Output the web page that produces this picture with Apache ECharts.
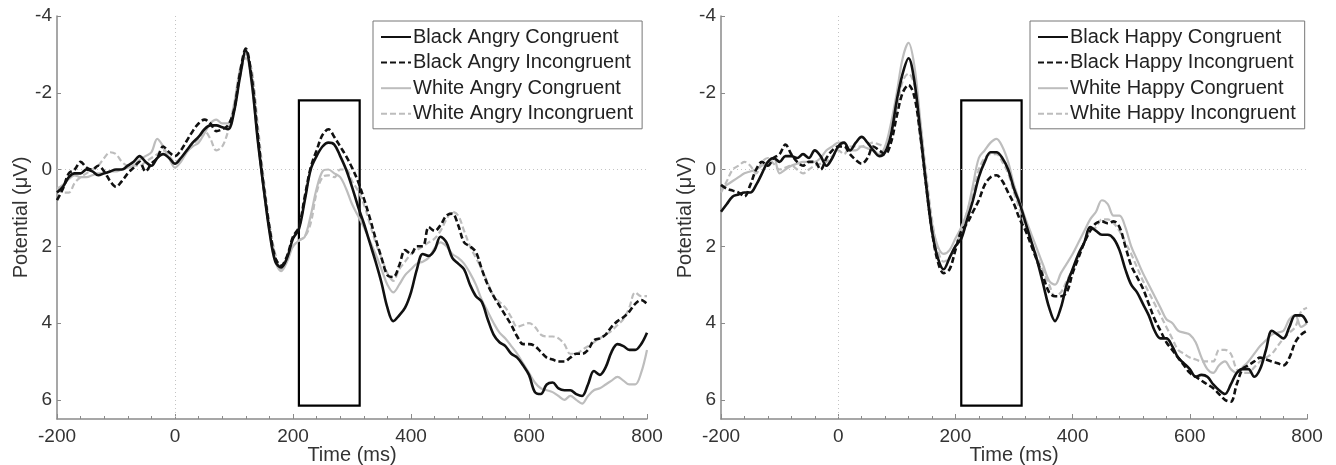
<!DOCTYPE html>
<html>
<head>
<meta charset="utf-8">
<script src="https://cdn.jsdelivr.net/npm/echarts@6/dist/echarts.min.js"></script>
<style>
  html, body { margin: 0; padding: 0; background: #fff; }
  #chart { width: 1336px; height: 465px; }
</style>
</head>
<body>
<div id="chart"></div>
<script>
// time points (ms)
const times = [
  -200, -190, -180, -170, -160, -150, -140, -130, -120, -110,
  -100, -90, -80, -70, -60, -50, -40, -30, -20, -10,
  0, 10, 20, 30, 40, 50, 60, 70, 80, 90,
  100, 110, 120, 130, 140, 150, 160, 170, 180, 190,
  200, 210, 220, 230, 240, 250, 260, 270, 280, 290,
  300, 310, 320, 330, 340, 350, 360, 370, 380, 390,
  400, 410, 420, 430, 440, 450, 460, 470, 480, 490,
  500, 510, 520, 530, 540, 550, 560, 570, 580, 590,
  600, 610, 620, 630, 640, 650, 660, 670, 680, 690,
  700, 710, 720, 730, 740, 750, 760, 770, 780, 790,
  800
]

// left panel: angry faces (uV)
const blackAngryCongruent = [
  0.6, 0.45, 0.2, 0.1, 0.1, 0.0, 0.05, 0.15, 0.1, 0.05,
  0.0, 0.0, -0.1, -0.2, -0.35, -0.2, -0.1, -0.3, -0.4, -0.3,
  -0.15, -0.3, -0.5, -0.7, -0.85, -1.05, -1.15, -1.15, -1.1, -1.05,
  -1.5, -2.4, -3.1, -2.3, -0.8, 0.45, 1.6, 2.4, 2.55, 2.3,
  1.8, 1.55, 0.8, 0.0, -0.35, -0.6, -0.7, -0.65, -0.35, 0.0,
  0.45, 0.95, 1.4, 1.9, 2.4, 2.95, 3.6, 3.95, 3.8, 3.6,
  3.2, 2.6, 2.2, 2.25, 2.1, 1.75, 1.9, 2.3, 2.45, 2.6,
  3.0, 3.3, 3.45, 3.9, 4.3, 4.5, 4.6, 4.8, 4.9, 5.1,
  5.35, 5.8, 5.85, 5.6, 5.55, 5.7, 5.75, 5.75, 5.85, 5.9,
  5.6, 5.25, 5.35, 5.15, 4.75, 4.55, 4.6, 4.7, 4.7, 4.55,
  4.25
]
const blackAngryIncongruent = [
  0.8, 0.5, 0.1, 0.0, -0.2, -0.05, 0.0, -0.1, 0.05, 0.3,
  0.45, 0.3, 0.1, -0.05, -0.2, 0.05, -0.15, -0.3, -0.6, -0.45,
  -0.35, -0.5, -0.75, -1.0, -1.2, -1.3, -1.2, -1.0, -1.05, -1.15,
  -1.55, -2.5, -3.15, -2.4, -0.95, 0.4, 1.5, 2.3, 2.5, 2.25,
  1.75, 1.5, 0.7, -0.05, -0.5, -0.9, -1.05, -0.85, -0.6, -0.35,
  -0.05, 0.3, 0.75, 1.25, 1.8, 2.3, 2.75, 2.8, 2.5, 2.1,
  2.2, 2.0, 2.0, 1.5, 1.6, 1.45, 1.2, 1.15, 1.45, 1.9,
  2.0, 2.15, 2.6, 3.0, 3.3, 3.55, 3.8, 4.05, 4.35, 4.55,
  4.55, 4.6, 4.75, 4.9, 4.95, 5.0, 5.0, 4.9, 4.8, 4.8,
  4.7, 4.45, 4.4, 4.3, 4.1, 3.95, 3.85, 3.7, 3.5, 3.4,
  3.5
]
const whiteAngryCongruent = [
  0.5, 0.4, 0.25, 0.15, 0.2, 0.2, 0.15, 0.1, 0.1, 0.05,
  0.05, 0.0, -0.05, -0.1, -0.25, -0.35, -0.45, -0.8, -0.6, -0.3,
  -0.05, -0.2, -0.45, -0.6, -0.7, -0.95, -1.2, -1.3, -1.2, -1.2,
  -1.7, -2.6, -3.0, -2.2, -0.8, 0.5, 1.6, 2.4, 2.65, 2.4,
  2.0, 1.85, 1.75, 1.2, 0.5, 0.05, 0.0, 0.1, 0.2, 0.5,
  0.9, 1.2, 1.5, 1.85, 2.2, 2.6, 3.0, 3.2, 3.0, 2.75,
  2.6, 2.45, 2.4, 2.3, 2.05, 1.9, 2.0, 2.2, 2.3, 2.45,
  2.7, 3.0, 3.4, 3.7, 4.0, 4.25, 4.4, 4.6, 4.8, 5.05,
  5.3, 5.55, 5.7, 5.75, 5.8, 5.9, 6.0, 5.9, 6.0, 6.1,
  5.9, 5.75, 5.7, 5.6, 5.5, 5.4, 5.5, 5.6, 5.6, 5.3,
  4.7
]
const whiteAngryIncongruent = [
  0.5, 0.6, 0.6, 0.35, 0.2, 0.1, 0.0, -0.1, -0.3, -0.45,
  -0.4, -0.2, -0.1, -0.1, -0.1, -0.2, -0.3, -0.4, -0.5, -0.35,
  -0.2, -0.3, -0.5, -0.65, -0.8, -1.0, -0.8, -0.5, -0.6, -1.0,
  -1.6, -2.4, -2.9, -2.6, -1.2, 0.2, 1.4, 2.2, 2.6, 2.3,
  2.0, 1.85, 1.75, 1.4, 0.6, 0.2, 0.15, 0.2, 0.0, 0.0,
  0.3, 0.55, 0.9, 1.4, 1.9, 2.3, 2.7, 2.9, 2.6, 2.4,
  2.2, 2.1, 2.0, 1.9, 1.8, 1.6, 1.3, 1.1, 1.2, 1.6,
  2.0, 2.3, 2.6, 2.95, 3.3, 3.45, 3.6, 3.85, 4.1, 4.05,
  4.0, 4.1, 4.3, 4.35, 4.35, 4.4, 4.55, 4.8, 4.8, 4.7,
  4.6, 4.5, 4.4, 4.3, 4.2, 4.05, 3.9, 3.6, 3.2, 3.3,
  3.3
]

// right panel: happy faces (uV)
const blackHappyCongruent = [
  1.1, 0.9, 0.7, 0.65, 0.6, 0.6, 0.4, 0.1, -0.2, -0.3,
  -0.2, -0.35, -0.35, -0.3, -0.4, -0.3, -0.5, -0.35, -0.1, -0.3,
  -0.6, -0.7, -0.5, -0.7, -0.85, -0.7, -0.5, -0.35, -0.45, -0.9,
  -1.8, -2.5, -2.9, -2.3, -1.0, 0.4, 1.6, 2.3, 2.6, 2.3,
  2.0, 1.8, 1.3, 0.8, 0.2, -0.2, -0.45, -0.45, -0.3, 0.0,
  0.5, 0.9, 1.4, 1.9, 2.4, 3.0, 3.6, 3.95, 3.6, 3.0,
  2.6, 2.2, 1.9, 1.5, 1.6, 1.7, 1.7, 1.8, 2.1, 2.6,
  3.0, 3.2, 3.5, 3.8, 4.2, 4.4, 4.4, 4.6, 4.9, 5.05,
  5.2, 5.4, 5.35, 5.4, 5.6, 5.75, 5.85, 5.6, 5.3, 5.2,
  5.2, 5.4, 5.2, 4.7, 4.2, 4.3, 4.4, 4.1, 3.8, 3.8,
  4.0
]
const blackHappyIncongruent = [
  0.4, 0.5, 0.55, 0.6, 0.7, 0.4, 0.0, -0.2, -0.1, -0.3,
  -0.4, -0.65, -0.4, -0.2, -0.1, -0.2, -0.2, 0.0, -0.3, -0.5,
  -0.6, -0.6, -0.4, -0.25, -0.15, -0.3, -0.6, -0.5, -0.4, -0.7,
  -1.4, -2.0, -2.2, -1.9, -0.9, 0.4, 1.6, 2.4, 2.7, 2.6,
  2.1, 1.6, 1.4, 1.1, 0.8, 0.4, 0.2, 0.15, 0.3, 0.6,
  0.9, 1.3, 1.6, 2.0, 2.4, 2.8, 3.2, 3.3, 3.3, 3.2,
  2.7, 2.3, 1.9, 1.6, 1.4, 1.35, 1.4, 1.35, 1.5, 2.0,
  2.5, 2.8, 3.1, 3.5, 3.9, 4.2, 4.5, 4.7, 4.9, 5.1,
  5.3, 5.4, 5.5, 5.6, 5.7, 5.85, 6.0, 6.05, 5.6, 5.2,
  5.1, 5.0, 4.9, 4.95, 5.0, 5.05, 5.1, 4.9, 4.5, 4.3,
  4.2
]
const whiteHappyCongruent = [
  0.5, 0.4, 0.3, 0.2, 0.1, 0.05, 0.0, -0.1, -0.2, -0.3,
  0.1, 0.0, -0.1, -0.15, -0.2, -0.2, -0.2, -0.3, -0.5, -0.6,
  -0.7, -0.7, -0.5, -0.5, -0.6, -0.55, -0.5, -0.4, -0.6, -1.2,
  -2.0, -2.9, -3.3, -2.7, -1.3, 0.2, 1.4, 2.0, 2.2, 2.1,
  1.8, 1.5, 1.1, 0.4, -0.3, -0.5, -0.7, -0.8, -0.6, -0.2,
  0.4, 0.85, 1.3, 1.7, 2.1, 2.5, 2.9, 3.0, 2.7, 2.45,
  2.2, 1.9, 1.6, 1.3, 1.1, 0.8, 0.9, 1.2, 1.2, 1.5,
  2.0, 2.35, 2.7, 3.0, 3.3, 3.6, 3.9, 4.0, 4.2, 4.25,
  4.3, 4.5, 4.9, 5.2, 5.3, 5.1, 5.0, 5.2, 5.3, 5.15,
  5.0, 4.8, 4.6, 4.45, 4.3, 4.25, 4.2, 3.9, 3.8, 4.1,
  4.0
]
const whiteHappyIncongruent = [
  0.6, 0.3, 0.0, -0.1, -0.2, -0.1, 0.1, -0.2, -0.3, -0.15,
  0.0, -0.05, -0.1, 0.0, 0.1, 0.0, -0.1, -0.15, -0.2, -0.35,
  -0.5, -0.4, -0.6, -0.6, -0.6, -0.65, -0.7, -0.65, -0.6, -0.9,
  -1.6, -2.3, -2.5, -2.2, -1.2, 0.1, 1.3, 2.1, 2.4, 2.3,
  2.0, 1.6, 1.1, 0.6, 0.0, -0.3, -0.4, -0.4, -0.2, 0.1,
  0.6, 1.05, 1.5, 1.9, 2.3, 2.65, 3.0, 3.3, 3.2, 2.9,
  2.6, 2.25, 1.9, 1.6, 1.5, 1.3, 1.3, 1.4, 1.6, 1.9,
  2.2, 2.55, 2.9, 3.2, 3.5, 3.8, 4.1, 4.4, 4.7, 4.8,
  4.9, 4.95, 5.0, 5.0, 5.0, 4.7, 4.7, 4.8, 5.2, 5.3,
  5.3, 5.15, 5.0, 4.9, 4.8, 4.6, 4.4, 4.25, 4.1, 3.7,
  3.6
]

const leftNames = ['Black Angry Congruent', 'Black Angry Incongruent', 'White Angry Congruent', 'White Angry Incongruent']
const rightNames = ['Black Happy Congruent', 'Black Happy Incongruent', 'White Happy Congruent', 'White Happy Incongruent']
const xTicks = [-200, 0, 200, 400, 600, 800]
const yTicks = [-4, -2, 0, 2, 4, 6]
// analysis window drawn as a rectangle (ms, uV)
const windowMs = [210, 313]
const windowUv = [-1.8, 6.15]

const chart = echarts.init(document.getElementById('chart'))

const pair = vals => times.map((t, i) => [t, vals[i]])

const styles = [
  { color: '#111', width: 2.6, type: 'solid' },
  { color: '#111', width: 2.6, type: [6, 3] },
  { color: '#bdbdbd', width: 2.2, type: 'solid' },
  { color: '#bdbdbd', width: 2.2, type: [6, 3] }
]

function lineSeries (name, vals, idx, k) {
  const s = styles[k]
  const obj = {
    name: name,
    type: 'line',
    xAxisIndex: idx,
    yAxisIndex: idx,
    smooth: 0.35,
    symbol: 'none',
    z: 10 - k,
    lineStyle: { color: s.color, width: s.width, type: s.type },
    itemStyle: { color: s.color },
    data: pair(vals)
  }
  if (k === 0) {
    obj.markLine = {
      silent: true,
      symbol: 'none',
      label: { show: false },
      lineStyle: { color: '#c4c4c4', type: [1, 3], width: 1 },
      data: [{ xAxis: 0 }, { yAxis: 0 }]
    }
    obj.markArea = {
      silent: true,
      itemStyle: { color: 'rgba(0,0,0,0)', borderColor: '#000', borderWidth: 2.2 },
      data: [[{ xAxis: windowMs[0], yAxis: windowUv[0] }, { xAxis: windowMs[1], yAxis: windowUv[1] }]]
    }
  }
  return obj
}

const axisColor = '#8a8a8a'
const font = 'Liberation Sans, Arial, sans-serif'
const tickText = { color: '#333', fontSize: 19, fontFamily: font }
const nameText = { color: '#333', fontSize: 20, fontFamily: font }

function xAxisFor (idx) {
  return {
    type: 'value',
    gridIndex: idx,
    min: xTicks[0],
    max: xTicks[xTicks.length - 1],
    interval: 200,
    name: 'Time (ms)',
    nameLocation: 'middle',
    nameGap: 26,
    nameMoveOverlap: false,
    nameTextStyle: nameText,
    axisLine: { onZero: false, lineStyle: { color: axisColor, width: 1.5 } },
    axisTick: { inside: true, length: 5, lineStyle: { color: axisColor } },
    minorTick: { show: true, splitNumber: 5, length: 3, lineStyle: { color: axisColor } },
    axisLabel: { margin: 8, ...tickText },
    splitLine: { show: false }
  }
}

function yAxisFor (idx) {
  return {
    type: 'value',
    gridIndex: idx,
    inverse: true,
    min: yTicks[0],
    max: 6.5,
    interval: 2,
    name: 'Potential (μV)',
    nameLocation: 'middle',
    nameGap: 25,
    nameTextStyle: nameText,
    axisLine: { onZero: false, lineStyle: { color: axisColor, width: 1.5 } },
    axisTick: { inside: true, length: 4, lineStyle: { color: axisColor } },
    axisLabel: { margin: 5, showMaxLabel: false, ...tickText },
    splitLine: { show: false }
  }
}

function legendFor (names, left) {
  return {
    data: names,
    orient: 'vertical',
    left: left,
    top: 21,
    padding: [6, 9, 5, 7],
    itemWidth: 30,
    itemHeight: 14,
    itemGap: 5.6,
    borderColor: '#777',
    borderWidth: 1,
    backgroundColor: '#fff',
    selectedMode: false,
    itemStyle: { opacity: 0 },
    textStyle: { color: '#222', fontSize: 20, fontFamily: font, padding: [0, 0, 0, -3] }
  }
}

chart.setOption({
  animation: false,
  backgroundColor: '#fff',
  grid: [
    { left: 57, top: 16, width: 590, height: 403, outerBoundsMode: 'none', containLabel: false },
    { left: 721, top: 16, width: 586, height: 403, outerBoundsMode: 'none', containLabel: false }
  ],
  legend: [legendFor(leftNames, 373), legendFor(rightNames, 1030)],
  xAxis: [xAxisFor(0), xAxisFor(1)],
  yAxis: [yAxisFor(0), yAxisFor(1)],
  series: [
    lineSeries(leftNames[0], blackAngryCongruent, 0, 0),
    lineSeries(leftNames[1], blackAngryIncongruent, 0, 1),
    lineSeries(leftNames[2], whiteAngryCongruent, 0, 2),
    lineSeries(leftNames[3], whiteAngryIncongruent, 0, 3),
    lineSeries(rightNames[0], blackHappyCongruent, 1, 0),
    lineSeries(rightNames[1], blackHappyIncongruent, 1, 1),
    lineSeries(rightNames[2], whiteHappyCongruent, 1, 2),
    lineSeries(rightNames[3], whiteHappyIncongruent, 1, 3)
  ]
})
</script>
</body>
</html>
